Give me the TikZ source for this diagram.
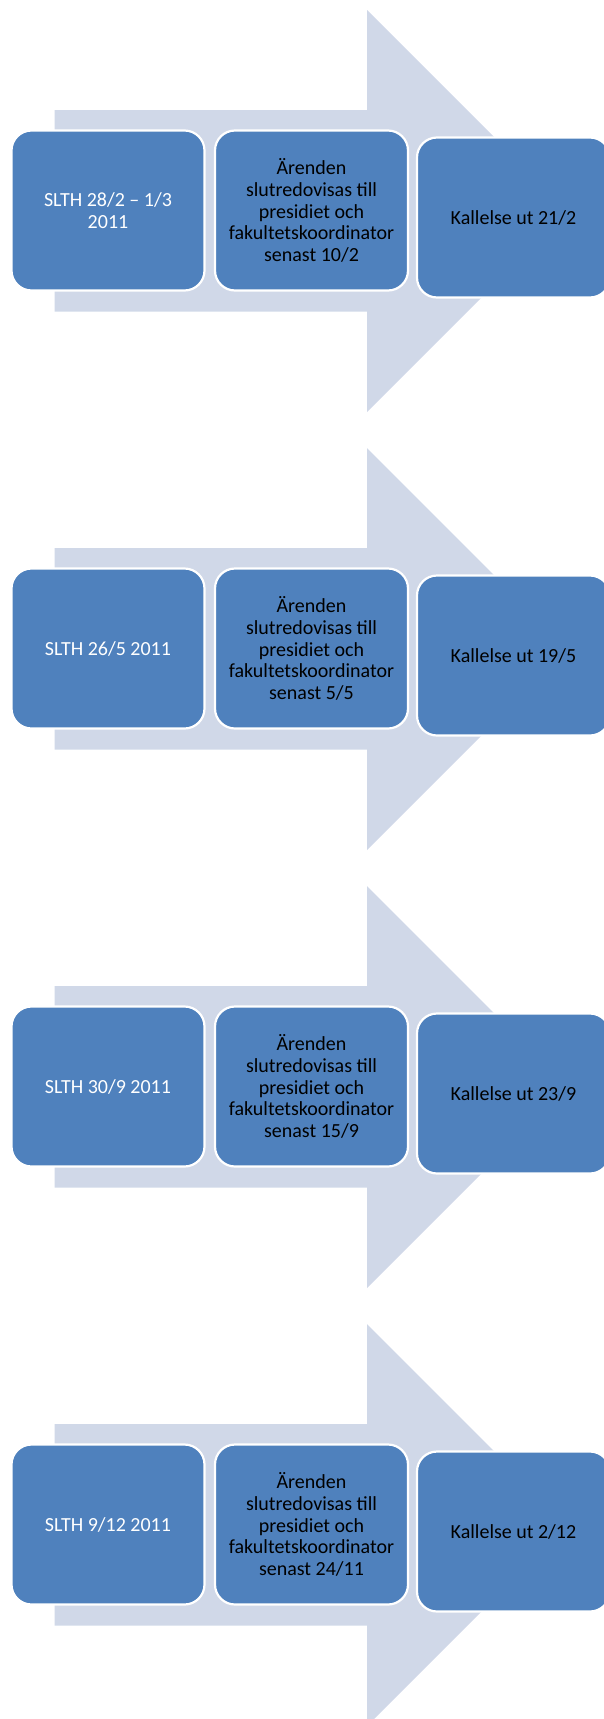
\documentclass[tikz,border=0pt]{standalone}
\usepackage{fontspec}
\setmainfont{Carlito}
\definecolor{boxblue}{HTML}{4F81BD}
\definecolor{arrowgray}{HTML}{D0D8E8}
\tikzset{
  stage/.style={rectangle, rounded corners=20pt, fill=boxblue, draw=white,
    line width=2.2pt, minimum width=193pt, minimum height=160pt,
    align=center, inner sep=2pt, font=\fontsize{20}{21.7}\selectfont},
}
\begin{document}
\begin{tikzpicture}[x=1pt,y=-1pt]
    \useasboundingbox (0,0) rectangle (603,1719);

    \foreach \k/\slth/\senast/\kall in {
        0/{SLTH 28/2 – 1/3\\2011}/{10/2}/{21/2},
        1/{SLTH 26/5 2011}/{5/5}/{19/5},
        2/{SLTH 30/9 2011}/{15/9}/{23/9},
        3/{SLTH 9/12 2011}/{24/11}/{2/12}}
    {
        \pgfmathsetmacro{\oy}{\k*438}
        % Pil i bakgrunden
        \fill[arrowgray] (54.5,110+\oy) -- (367,110+\oy) -- (367,10+\oy)
            -- (568,211+\oy) -- (367,412+\oy) -- (367,311.7+\oy)
            -- (54.5,311.7+\oy) -- cycle;

        % Rutor
        \node[stage, text=white] (s\k) at (108,210.5+\oy) {\slth};
        \node[stage] (a\k) at (311.5,210.5+\oy)
            {Ärenden\\slutredovisas till\\presidiet och\\fakultetskoordinator\\senast \senast};
        \node[stage] (c\k) at (513.5,217.5+\oy) {Kallelse ut \kall};
    }
\end{tikzpicture}
\end{document}
